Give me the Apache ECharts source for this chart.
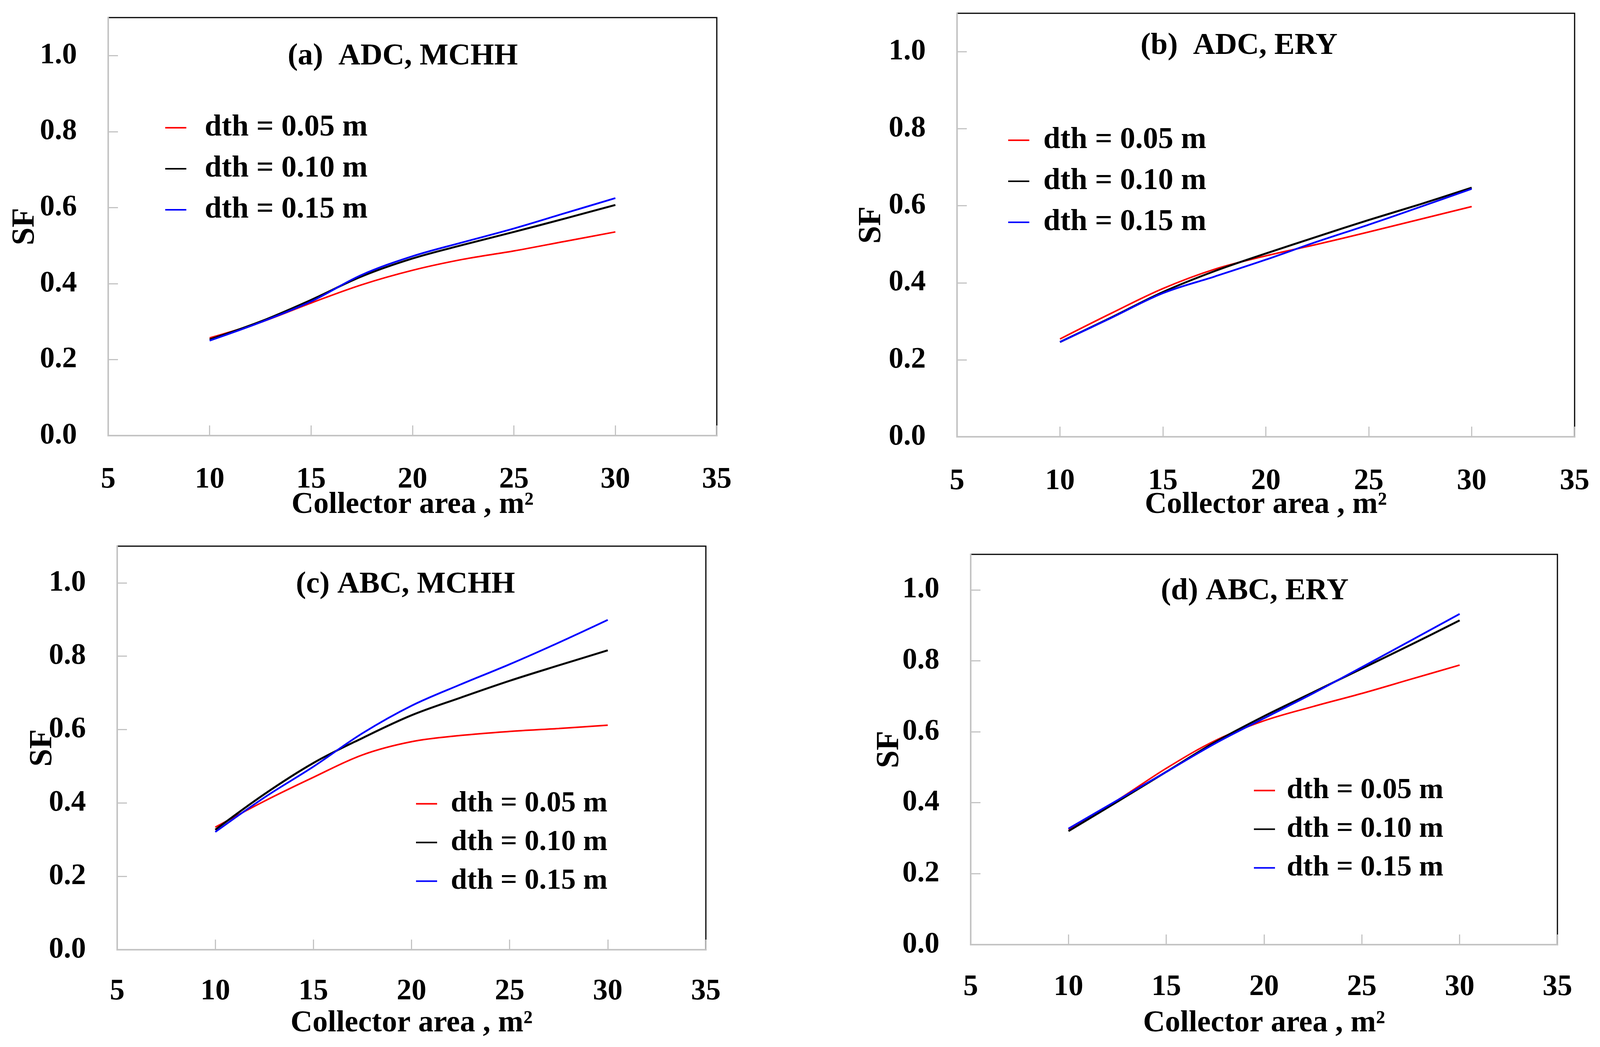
<!DOCTYPE html>
<html>
<head>
<meta charset="utf-8">
<title>SF vs collector area</title>
<script src="https://cdn.jsdelivr.net/npm/echarts@6/dist/echarts.min.js"></script>
<style>
  html, body { margin: 0; padding: 0; background: #fff; }
  #main { width: 4098px; height: 2680px; }
</style>
</head>
<body>
<div id="main"></div>
<script>
// collector area (m2) where the curves were read
var xArea = [10, 12.5, 15, 17.5, 20, 22.5, 25, 27.5, 30]
var xTicks = [5, 10, 15, 20, 25, 30, 35]
var yTicks = [0, 0.2, 0.4, 0.6, 0.8, 1.0]
var dthNames = ['dth = 0.05 m', 'dth = 0.10 m', 'dth = 0.15 m']
var panelTitles = ['(a)  ADC, MCHH', '(b)  ADC, ERY', '(c) ABC, MCHH', '(d) ABC, ERY']

// SF values, one array per panel and dth
var aRed = [0.257, 0.298, 0.349, 0.397, 0.435, 0.464, 0.486, 0.511, 0.536]
var aBlack = [0.253, 0.300, 0.357, 0.419, 0.466, 0.502, 0.536, 0.571, 0.607]
var aBlue = [0.250, 0.298, 0.353, 0.423, 0.472, 0.509, 0.545, 0.585, 0.625]

var bRed = [0.254, 0.321, 0.385, 0.435, 0.470, 0.500, 0.532, 0.565, 0.598]
var bBlack = [0.246, 0.310, 0.376, 0.430, 0.476, 0.520, 0.563, 0.604, 0.647]
var bBlue = [0.246, 0.309, 0.373, 0.416, 0.460, 0.507, 0.551, 0.597, 0.644]

var cRed = [0.334, 0.405, 0.470, 0.531, 0.567, 0.584, 0.595, 0.603, 0.612]
var cBlack = [0.327, 0.424, 0.509, 0.577, 0.639, 0.687, 0.733, 0.775, 0.816]
var cBlue = [0.321, 0.415, 0.499, 0.590, 0.665, 0.723, 0.778, 0.837, 0.899]

var dRed = [0.325, 0.407, 0.497, 0.575, 0.631, 0.671, 0.708, 0.748, 0.788]
var dBlack = [0.320, 0.403, 0.487, 0.571, 0.644, 0.711, 0.778, 0.845, 0.914]
var dBlue = [0.327, 0.407, 0.487, 0.567, 0.638, 0.708, 0.782, 0.857, 0.932]

var panelData = [
  [aRed, aBlack, aBlue],
  [bRed, bBlack, bBlue],
  [cRed, cBlack, cBlue],
  [dRed, dBlack, dBlue]
]

var FONT = 'Liberation Serif'
var lineColors = ['#ff0000', '#000000', '#0000ff']
var lineWidths = [4, 5, 4.5]

// layout of the four panels (pixels)
var panels = [
  {grid: {left: 277, top: 45, width: 1558, height: 1070}, title: [1031, 106],
    legend: [423, 288, 27, 42], xMargin: 75, xNameGap: 139, yNameGap: 171},
  {grid: {left: 2450, top: 34, width: 1581, height: 1084}, title: [3172, 79],
    legend: [2581, 320, 27, 31], xMargin: 76, xNameGap: 136, yNameGap: 177},
  {grid: {left: 300, top: 1398, width: 1507, height: 1033}, title: [1038, 1458],
    legend: [1065, 2020, 24, 30], xMargin: 69, xNameGap: 150, yNameGap: 149},
  {grid: {left: 2485, top: 1419, width: 1502, height: 999}, title: [3212, 1475],
    legend: [3210, 1986, 24, 25], xMargin: 71, xNameGap: 163, yNameGap: 166}
]

function pairs (ys) {
  var out = []
  for (var i = 0; i < xArea.length; i++) {
    out.push([xArea[i], ys[i]])
  }
  return out
}

var grids = []
var xAxes = []
var yAxes = []
var titles = []
var legends = []
var series = []

panels.forEach(function (p, k) {
  grids.push(Object.assign({
    show: true,
    borderColor: '#000',
    borderWidth: 3,
    backgroundColor: 'transparent',
    containLabel: false,
    outerBoundsMode: 'none'
  }, p.grid))

  xAxes.push({
    gridIndex: k,
    type: 'value',
    min: 5,
    max: 35,
    interval: 5,
    name: 'Collector area , m²',
    nameLocation: 'middle',
    nameGap: p.xNameGap,
    nameMoveOverlap: false,
    nameTextStyle: {fontFamily: FONT, fontWeight: 'bold', fontSize: 78, color: '#000'},
    axisLine: {lineStyle: {color: '#c4c4c4', width: 4}},
    axisTick: {inside: true, length: 26, lineStyle: {color: '#c4c4c4', width: 3}, customValues: xTicks},
    axisLabel: {margin: p.xMargin, fontFamily: FONT, fontWeight: 'bold', fontSize: 76, color: '#000', customValues: xTicks},
    splitLine: {show: false}
  })

  yAxes.push({
    gridIndex: k,
    type: 'value',
    min: 0,
    max: 1.1,
    name: 'SF',
    nameLocation: 'middle',
    nameGap: p.yNameGap,
    nameMoveOverlap: false,
    nameTextStyle: {fontFamily: FONT, fontWeight: 'bold', fontSize: 82, color: '#000'},
    axisLine: {show: true, lineStyle: {color: '#c4c4c4', width: 4}},
    axisTick: {show: true, inside: true, length: 25, lineStyle: {color: '#c4c4c4', width: 3}, customValues: yTicks},
    axisLabel: {
      margin: 80, fontFamily: FONT, fontWeight: 'bold', fontSize: 76, color: '#000',
      customValues: yTicks,
      formatter: function (v) { return v.toFixed(1) }
    },
    splitLine: {show: false}
  })

  titles.push({
    text: panelTitles[k],
    left: p.title[0],
    top: p.title[1],
    textAlign: 'center',
    padding: 0,
    textStyle: {fontFamily: FONT, fontWeight: 'bold', fontSize: 78, color: '#000'}
  })

  legends.push({
    orient: 'vertical',
    left: p.legend[0],
    top: p.legend[1],
    itemGap: p.legend[2],
    itemWidth: 54,
    itemHeight: 4,
    padding: 0,
    icon: 'rect',
    selectedMode: false,
    data: dthNames,
    textStyle: {
      fontFamily: FONT, fontWeight: 'bold', fontSize: k < 2 ? 78 : 75, color: '#000',
      padding: [0, 0, 0, p.legend[3]]
    }
  })

  panelData[k].forEach(function (ys, j) {
    series.push({
      name: dthNames[j],
      type: 'line',
      xAxisIndex: k,
      yAxisIndex: k,
      data: pairs(ys),
      smooth: 0.35,
      showSymbol: false,
      color: lineColors[j],
      lineStyle: {color: lineColors[j], width: lineWidths[j]},
      animation: false
    })
  })
})

var myChart = echarts.init(document.getElementById('main'))
myChart.setOption({
  backgroundColor: '#fff',
  animation: false,
  title: titles,
  legend: legends,
  grid: grids,
  xAxis: xAxes,
  yAxis: yAxes,
  series: series
})
</script>
</body>
</html>
